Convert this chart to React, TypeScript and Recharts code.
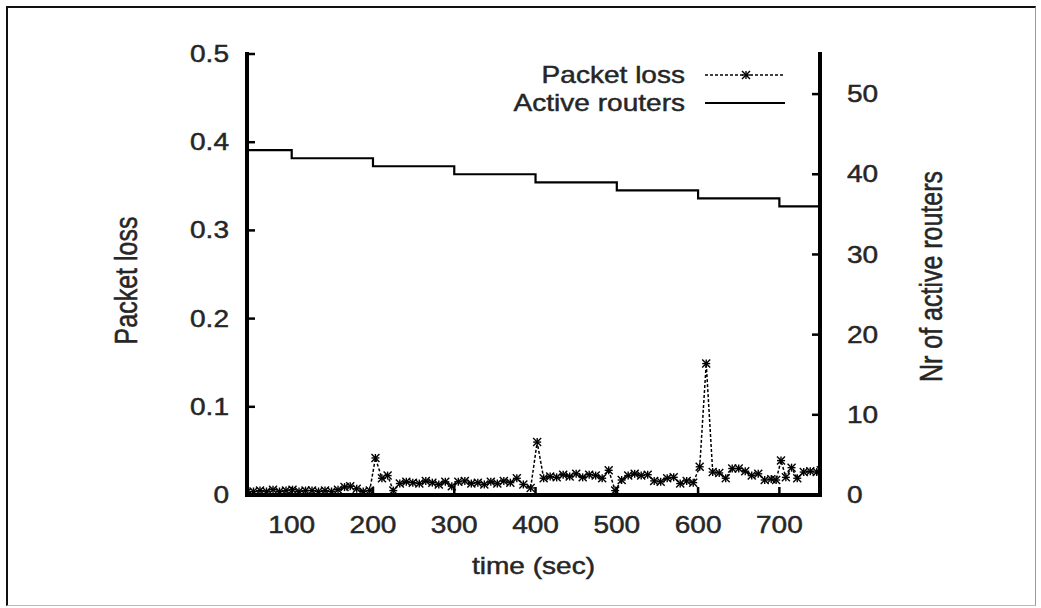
import React from 'react';
import { LineChart, Line, XAxis, YAxis, Legend } from 'recharts';

// ---- data ----
const timeTicks = [100, 200, 300, 400, 500, 600, 700];
const lossTicks = [0, 0.1, 0.2, 0.3, 0.4, 0.5];
const routerTicks = [0, 10, 20, 30, 40, 50];

const lossTimes = [
  45, 53, 61, 69, 77, 85, 93, 101, 109, 117, 125, 133, 141, 149, 157, 165, 172, 180, 188, 196,
  203, 211, 218, 225, 233, 241, 249, 257, 265, 273, 281, 289, 297, 305, 313, 321, 329, 337, 345,
  353, 361, 369, 377, 385, 394, 402, 410, 418, 426, 434, 442, 450, 458, 466, 474, 482, 490, 498,
  506, 514, 522, 530, 538, 546, 554, 562, 570, 578, 586, 594, 602, 610, 618, 626, 634, 642, 650,
  658, 666, 674, 682, 690, 696, 702, 708, 715, 722, 730, 738, 746, 751,
];
const lossValues = [
  0.003, 0.004, 0.005, 0.004, 0.006, 0.004, 0.005, 0.006, 0.004, 0.005, 0.005, 0.004, 0.005, 0.004, 0.006, 0.009, 0.010, 0.007, 0.004, 0.005,
  0.042, 0.019, 0.022, 0.005, 0.013, 0.015, 0.014, 0.013, 0.016, 0.014, 0.012, 0.015, 0.010, 0.015, 0.016, 0.013, 0.014, 0.012, 0.015,
  0.013, 0.016, 0.014, 0.019, 0.012, 0.008, 0.060, 0.019, 0.021, 0.020, 0.023, 0.021, 0.024, 0.020, 0.023, 0.022, 0.019, 0.028, 0.005,
  0.017, 0.022, 0.024, 0.022, 0.023, 0.016, 0.015, 0.019, 0.020, 0.013, 0.016, 0.014, 0.032, 0.149, 0.026, 0.025, 0.019, 0.030, 0.030,
  0.027, 0.022, 0.024, 0.017, 0.018, 0.017, 0.039, 0.020, 0.031, 0.019, 0.026, 0.027, 0.026, 0.028,
];
const routerTimes = [45, 100, 200, 300, 400, 500, 600, 700, 750];
const routerCounts = [43, 42, 41, 40, 39, 38, 37, 36, 36];

const lossData = lossTimes.map((t, i) => ({ t, loss: lossValues[i] }));
const routerData = routerTimes.map((t, i) => ({ t, routers: routerCounts[i] }));

// ---- styling ----
const FONT = '"Liberation Sans", Arial, Helvetica, sans-serif';
const FS = 23;
const FS_V = 25;
const SX = 1.22;
const TXT = '#262626';
const L_MARGIN = 18;
const R_MARGIN = 27;
const B_MARGIN = 30;
const TICK_LEN = 8;

const HText = ({ x, y, anchor, children }: any) => (
  <text
    transform={`translate(${x},${y}) scale(${SX},1)`}
    x={0}
    y={0}
    textAnchor={anchor}
    dominantBaseline="central"
    fontFamily={FONT}
    fontSize={FS}
    fill={TXT}
    stroke={TXT}
    strokeWidth={0.45}
  >
    {children}
  </text>
);

const VText = ({ x, y, children }: any) => (
  <text
    transform={`translate(${x},${y}) rotate(-90) scale(1,1.25)`}
    x={0}
    y={0}
    textAnchor="middle"
    dominantBaseline="central"
    fontFamily={FONT}
    fontSize={FS_V}
    fill={TXT}
    stroke={TXT}
    strokeWidth={0.45}
  >
    {children}
  </text>
);

const Star = ({ cx, cy }: any) => {
  const s = 4;
  return (
    <g stroke="#000" strokeWidth={1.4}>
      <line x1={cx - s} y1={cy - s} x2={cx + s} y2={cy + s} />
      <line x1={cx - s} y1={cy + s} x2={cx + s} y2={cy - s} />
      <line x1={cx} y1={cy - s} x2={cx} y2={cy + s} />
      <line x1={cx - s} y1={cy} x2={cx + s} y2={cy} />
    </g>
  );
};

const LeftTick = ({ x, y, payload }: any) => {
  const ax = x + L_MARGIN;
  return (
    <g>
      <line x1={ax} x2={ax + TICK_LEN} y1={y} y2={y} stroke="#000" strokeWidth={2.5} />
      <HText x={x} y={y} anchor="end">{String(payload.value)}</HText>
    </g>
  );
};

const RightTick = ({ x, y, payload }: any) => {
  const ax = x - R_MARGIN;
  return (
    <g>
      <line x1={ax} x2={ax - TICK_LEN} y1={y} y2={y} stroke="#000" strokeWidth={2.5} />
      <HText x={x} y={y} anchor="start">{String(payload.value)}</HText>
    </g>
  );
};

const BottomTick = ({ x, y, payload }: any) => {
  const ay = y - B_MARGIN;
  return (
    <g>
      <line x1={x} x2={x} y1={ay} y2={ay - TICK_LEN} stroke="#000" strokeWidth={2.5} />
      <HText x={x} y={y} anchor="middle">{String(payload.value)}</HText>
    </g>
  );
};

const TopTick = ({ x, y }: any) => (
  <line x1={x} x2={x} y1={y} y2={y + TICK_LEN} stroke="#000" strokeWidth={2.5} />
);

const LeftTitle = ({ viewBox }: any) => {
  const vb = viewBox || { x: 0, y: 54, width: 247, height: 441 };
  return <VText x={vb.x + 126} y={vb.y + vb.height / 2 + 6}>Packet loss</VText>;
};
const RightTitle = ({ viewBox }: any) => {
  const vb = viewBox || { x: 820, y: 54, width: 221, height: 441 };
  return <VText x={vb.x + 111} y={vb.y + vb.height / 2 + 2}>Nr of active routers</VText>;
};
const BottomTitle = ({ viewBox }: any) => {
  const vb = viewBox || { x: 247, y: 495, width: 573, height: 113 };
  return <HText x={vb.x + vb.width / 2} y={vb.y + 71} anchor="middle">time (sec)</HText>;
};

const LegendContent = () => (
  <svg width={1041} height={130} style={{ display: 'block' }}>
    <HText x={685} y={75} anchor="end">Packet loss</HText>
    <line x1={705} x2={785} y1={75} y2={75} stroke="#000" strokeWidth={1.5} strokeDasharray="3 2" />
    <Star cx={746} cy={75} />
    <HText x={685} y={103} anchor="end">Active routers</HText>
    <line x1={705} x2={785} y1={103} y2={103} stroke="#000" strokeWidth={2.2} />
  </svg>
);

const frameLine = { stroke: '#000', strokeWidth: 4, strokeLinecap: 'square' as const };

export default function App() {
  return (
    <div style={{ position: 'absolute', left: 0, top: 0, width: 1041, height: 608, background: '#fff' }}>
      <div
        style={{
          position: 'absolute',
          left: 6,
          top: 6,
          width: 1027,
          height: 597,
          borderLeft: '2px solid #111',
          borderTop: '2px solid #111',
          borderRight: '1px solid #999',
          borderBottom: '1px solid #bbb',
        }}
      />
      <div style={{ position: 'absolute', left: 0, top: 0 }}>
        <LineChart width={1041} height={608} margin={{ top: 54, right: 0, bottom: 0, left: 0 }}>
          <XAxis
            xAxisId="b"
            dataKey="t"
            type="number"
            domain={[45, 750]}
            ticks={timeTicks}
            allowDataOverflow
            height={113}
            axisLine={frameLine}
            tickLine={false}
            tickSize={0}
            tickMargin={B_MARGIN}
            tick={<BottomTick />}
            interval={0}
            label={<BottomTitle />}
          />
          <XAxis
            xAxisId="t"
            orientation="top"
            dataKey="t"
            type="number"
            domain={[45, 750]}
            ticks={timeTicks}
            allowDataOverflow
            height={0}
            axisLine={frameLine}
            tickLine={false}
            tickSize={0}
            tickMargin={0}
            tick={<TopTick />}
            interval={0}
          />
          <YAxis
            yAxisId="l"
            type="number"
            domain={[0, 0.5]}
            ticks={lossTicks}
            allowDataOverflow
            width={247}
            axisLine={frameLine}
            tickLine={false}
            tickSize={0}
            tickMargin={L_MARGIN}
            tick={<LeftTick />}
            interval={0}
            label={<LeftTitle />}
          />
          <YAxis
            yAxisId="r"
            orientation="right"
            type="number"
            domain={[0, 55]}
            ticks={routerTicks}
            allowDataOverflow
            width={221}
            axisLine={frameLine}
            tickLine={false}
            tickSize={0}
            tickMargin={R_MARGIN}
            tick={<RightTick />}
            interval={0}
            label={<RightTitle />}
          />
          <Legend
            layout="horizontal"
            verticalAlign="middle"
            align="center"
            content={<LegendContent />}
            wrapperStyle={{ position: 'absolute', left: 0, top: 0, width: 1041, height: 130, pointerEvents: 'none' }}
          />
          <Line
            xAxisId="b"
            yAxisId="r"
            data={routerData}
            dataKey="routers"
            type="stepAfter"
            stroke="#000"
            strokeWidth={2.2}
            dot={false}
            isAnimationActive={false}
          />
          <Line
            xAxisId="b"
            yAxisId="l"
            data={lossData}
            dataKey="loss"
            type="linear"
            stroke="#000"
            strokeWidth={1.5}
            strokeDasharray="3 2"
            dot={(p: any) => <Star key={`d-${p.index}`} cx={p.cx} cy={p.cy} />}
            isAnimationActive={false}
          />
        </LineChart>
      </div>
    </div>
  );
}
